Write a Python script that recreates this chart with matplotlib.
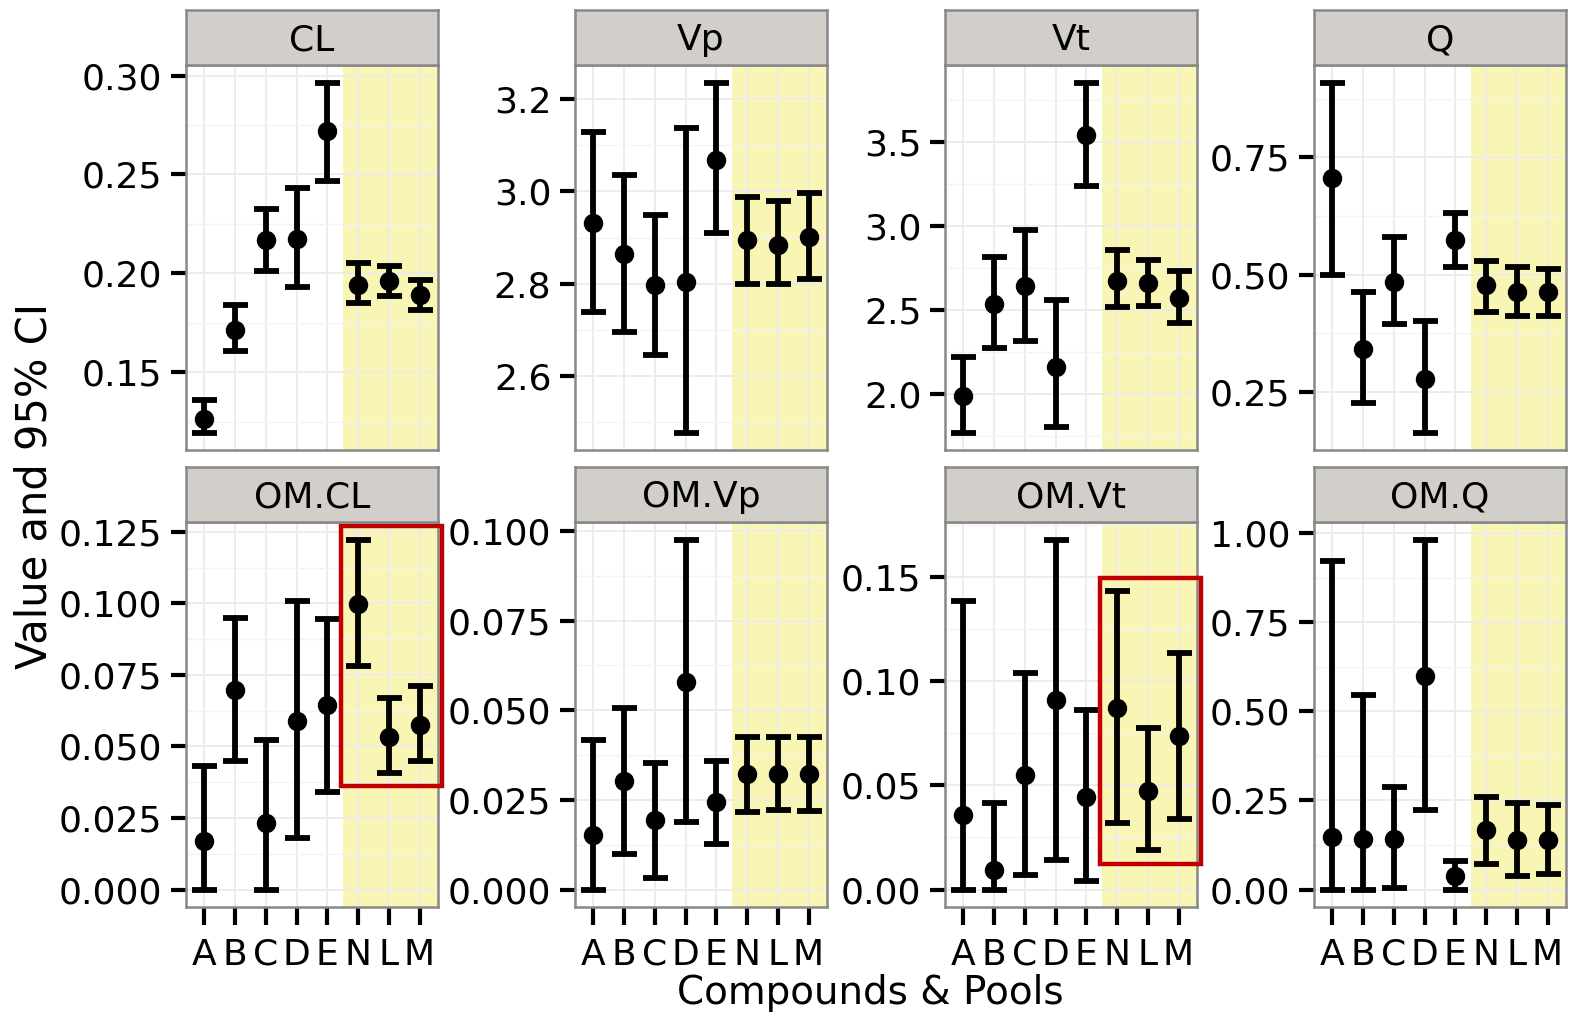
import numpy as np
import matplotlib
matplotlib.use("Agg")
import matplotlib.pyplot as plt
from matplotlib.ticker import MultipleLocator, FormatStrFormatter
from matplotlib.patches import Rectangle

# categories: five compounds then three pools
cats = ['A', 'B', 'C', 'D', 'E', 'N', 'L', 'M']
panels = ['CL', 'Vp', 'Vt', 'Q', 'OM.CL', 'OM.Vp', 'OM.Vt', 'OM.Q']

# estimates and 95% CI
cl_est = [0.1265, 0.1715, 0.217, 0.2175, 0.272, 0.194, 0.196, 0.189]
cl_lo = [0.1195, 0.1605, 0.201, 0.193, 0.2465, 0.185, 0.1885, 0.1815]
cl_hi = [0.136, 0.184, 0.2325, 0.243, 0.2965, 0.205, 0.2035, 0.1965]

vp_est = [2.932, 2.864, 2.797, 2.803, 3.069, 2.894, 2.885, 2.902]
vp_lo = [2.739, 2.696, 2.645, 2.478, 2.909, 2.80, 2.80, 2.81]
vp_hi = [3.129, 3.035, 2.949, 3.138, 3.236, 2.988, 2.979, 2.997]

vt_est = [1.99, 2.536, 2.642, 2.163, 3.541, 2.672, 2.66, 2.571]
vt_lo = [1.77, 2.275, 2.317, 1.80, 3.24, 2.518, 2.524, 2.423]
vt_hi = [2.22, 2.814, 2.979, 2.559, 3.855, 2.855, 2.80, 2.731]

q_est = [0.706, 0.341, 0.485, 0.277, 0.574, 0.477, 0.463, 0.463]
q_lo = [0.50, 0.227, 0.395, 0.163, 0.517, 0.420, 0.412, 0.412]
q_hi = [0.910, 0.462, 0.581, 0.400, 0.632, 0.530, 0.517, 0.513]

omcl_est = [0.0168, 0.0697, 0.0231, 0.059, 0.0645, 0.0996, 0.0532, 0.0575]
omcl_lo = [0.0, 0.0449, 0.0, 0.018, 0.0339, 0.0781, 0.0408, 0.0449]
omcl_hi = [0.0433, 0.095, 0.0522, 0.1008, 0.0944, 0.1223, 0.0669, 0.0712]

omvp_est = [0.0153, 0.0303, 0.0195, 0.0578, 0.0243, 0.0321, 0.0321, 0.0321]
omvp_lo = [0.0, 0.0100, 0.0033, 0.0188, 0.0127, 0.0215, 0.0222, 0.022]
omvp_hi = [0.0417, 0.0507, 0.0354, 0.0976, 0.0359, 0.0425, 0.0425, 0.0425]

omvt_est = [0.0357, 0.0093, 0.0551, 0.091, 0.0443, 0.0873, 0.0475, 0.0738]
omvt_lo = [0.0, 0.0, 0.0072, 0.014, 0.0039, 0.032, 0.0189, 0.034]
omvt_hi = [0.1385, 0.0416, 0.1041, 0.168, 0.0863, 0.1432, 0.0775, 0.1134]

omq_est = [0.148, 0.143, 0.143, 0.598, 0.0374, 0.167, 0.138, 0.138]
omq_lo = [0.0, 0.0, 0.005, 0.222, 0.0, 0.072, 0.039, 0.044]
omq_hi = [0.923, 0.547, 0.288, 0.982, 0.081, 0.259, 0.243, 0.238]

est = [cl_est, vp_est, vt_est, q_est, omcl_est, omvp_est, omvt_est, omq_est]
lo = [cl_lo, vp_lo, vt_lo, q_lo, omcl_lo, omvp_lo, omvt_lo, omq_lo]
hi = [cl_hi, vp_hi, vt_hi, q_hi, omcl_hi, omvp_hi, omvt_hi, omq_hi]

# y tick step and label format per panel
steps = [0.05, 0.2, 0.5, 0.25, 0.025, 0.025, 0.05, 0.25]
fmts = ['%.2f', '%.1f', '%.1f', '%.2f', '%.3f', '%.3f', '%.2f', '%.2f']
boxed = ['OM.CL', 'OM.Vt']

W, H = 1572, 1016
plt.rcParams['font.family'] = 'DejaVu Sans'
fig = plt.figure(figsize=(W / 100, H / 100), dpi=100)


def rect(l, t, w, h):
    return [l / W, 1 - (t + h) / H, w / W, h / H]


lefts = [186, 575, 945, 1314]
tops = [65, 522]
pw, ph, sh = 252, 385, 55
x = np.arange(1, len(cats) + 1)

for i, name in enumerate(panels):
    r, c = divmod(i, 4)
    ax = fig.add_axes(rect(lefts[c], tops[r], pw, ph))
    e = np.array(est[i])
    yerr = [e - np.array(lo[i]), np.array(hi[i]) - e]
    ax.axvspan(5.5, 9, color='#F9F5B5', zorder=0.2, lw=0)
    ax.errorbar(x, e, yerr=yerr, fmt='o', color='black', ms=13,
                elinewidth=4.2, capsize=9, capthick=4.2, zorder=3)
    ax.set_xlim(0.4, 8.6)
    ax.margins(y=0.05)
    ax.set_xticks(x)
    ax.set_xticklabels(cats if r == 1 else [])
    ax.yaxis.set_major_locator(MultipleLocator(steps[i]))
    ax.yaxis.set_minor_locator(MultipleLocator(steps[i] / 2))
    ax.yaxis.set_major_formatter(FormatStrFormatter(fmts[i]))
    ax.set_axisbelow(True)
    ax.grid(True, which='major', color='#EBEBEB', lw=1.3)
    ax.grid(True, which='minor', axis='y', color='#F3F3F3', lw=1.0)
    ax.tick_params(axis='both', which='major', length=11, width=3,
                   labelsize=26, color='black', labelcolor='black')
    ax.tick_params(axis='y', which='minor', length=0)
    ax.tick_params(axis='y', pad=6)
    ax.tick_params(axis='x', pad=9, length=13 if r == 1 else 0)
    for s in ax.spines.values():
        s.set_color('#888888')
        s.set_linewidth(1.8)

    # strip header
    sa = fig.add_axes(rect(lefts[c], tops[r] - sh, pw, sh))
    sa.set_facecolor('#D2CFCA')
    sa.set_xticks([])
    sa.set_yticks([])
    for s in sa.spines.values():
        s.set_color('#888888')
        s.set_linewidth(1.8)
    sa.text(0.5, 0.45, name, ha='center', va='center', fontsize=26,
            transform=sa.transAxes)

    # red highlight box round the pooled estimates
    if name in boxed:
        y0, y1 = ax.get_ylim()
        pad = 0.035 * (y1 - y0)
        bot = min(lo[i][5:]) - pad
        top = min(max(hi[i][5:]) + pad, y1)
        ax.add_patch(Rectangle((5.45, bot), 8.72 - 5.45, top - bot, fill=False,
                               ec='#C00000', lw=3.2, clip_on=False, zorder=5))

fig.text(35 / W, 1 - 486 / H, 'Value and 95% CI', rotation=90,
         ha='center', va='center', fontsize=30)
fig.text(870 / W, 1 - 993 / H, 'Compounds & Pools', ha='center',
         va='center', fontsize=28)

fig.savefig('out.png', dpi=100, facecolor='white')
